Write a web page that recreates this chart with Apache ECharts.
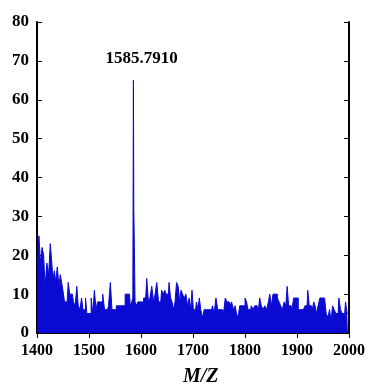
<!DOCTYPE html>
<html><head><meta charset="utf-8">
<script src="https://cdn.jsdelivr.net/npm/echarts@6/dist/echarts.min.js"></script>
<style>html,body{margin:0;padding:0;background:#fff}#c{width:371px;height:392px}</style>
</head><body><div id="c"></div>
<script>
var mz = [1400.5,1402.5,1405,1408,1411.5,1414,1417,1421,1424,1427,1429,1432,1435,1437,1441,1443.5,1446,1448.6,1451,1455,1458,1462,1464,1468,1472,1475,1478,1480.6,1484.4,1487,1489.6,1492,1494.7,1497,1500,1502.3,1506,1508.7,1512,1515,1517.7,1521.5,1524.7,1528,1531.8,1535.6,1539.5,1542.6,1545.8,1550.3,1554.8,1558.6,1563,1567.6,1571.4,1575.3,1577.8,1581,1583.6,1585.0,1585.79,1586.6,1587.8,1589.3,1592,1595.7,1599.6,1603.4,1606.6,1609,1613,1615.6,1618.8,1622.6,1625.8,1628.4,1632.2,1635.4,1638,1641.2,1644.4,1647,1649.5,1652.7,1655.2,1658.4,1661,1664.2,1666.7,1670,1673,1675.7,1678.3,1681.5,1684.7,1687.9,1691,1694.3,1696.8,1699.4,1702,1705,1708.3,1710.9,1713.4,1716.6,1719.8,1723,1726.2,1729.4,1732.6,1735.8,1739,1742.2,1746,1749.3,1751.8,1755,1758.2,1760.8,1763.3,1767.2,1769.7,1772.3,1776.1,1779.3,1782.5,1785,1788.3,1791.5,1794.7,1798.5,1801.7,1804.3,1807.5,1810.7,1813.9,1817,1820.3,1823.5,1826.7,1829.9,1833,1836.3,1839.5,1843.3,1846.5,1849,1852.3,1855.4,1858,1860.6,1863.8,1867,1870.2,1873.4,1877.2,1879.8,1882.3,1885.5,1888.7,1891.9,1895.1,1897.7,1900.9,1904,1907.3,1910.5,1913.7,1916.9,1919.4,1922,1925.2,1927.7,1931,1933.5,1936,1938.6,1942.4,1945.6,1948.2,1951.4,1954.6,1957.8,1961,1964.2,1966.8,1970,1973.2,1976.3,1979,1982.1,1985.3,1988.5,1991.7,1994.9,1998];
var intensity = [18,20,25,18,22,20,12,18,15,23,19,14,16,13,17,12,15,13,11,8,8,13,10,10,8,7,12,7,6,9,6,6,9,5,5,5,9,5,11,6,8,8,8,10,6,6,7,13,6,6,7,7,7,7,10,10,10,7,8,9,65,32,22,8,7,8,8,8,9,9,14,8,9,12,8,10,13,8,8,11,10,11,10,10,13,9,8,6,8,13,12,8,11,10,9,10,7,9,6,11,6,6,8,6,9,6,4,6,6,6,6,6,7,5,9,6,6,6,5,6,9,8,8,7,8,6,7,5,4,7,7,7,9,8,6,6,7,6,7,7,5,9,7,6,7,6,8,10,7,10,10,10,9,8,7,6,8,7,12,7,7,6,9,9,9,6,6,6,6,7,7,11,7,7,6,8,7,5,7,9,9,9,9,5,4,6,3,7,6,5,5,9,6,5,5,8,5];
var xTicks = [1400,1500,1600,1700,1800,1900,2000];
var yTicks = [0,10,20,30,40,50,60,70,80];
var peakLabel = '1585.7910';
var peakMz = 1585.79, peakVal = 65;

var data = mz.map(function(m,i){return [m, intensity[i]];});
var chart = echarts.init(document.getElementById('c'));
var font = 'Liberation Serif';
var blue = '#0a0ad2';
var axisCommon = {
  axisLine:{show:true,lineStyle:{color:'#000',width:2}},
  axisTick:{show:true,inside:true,length:5,lineStyle:{color:'#000',width:1}},
  splitLine:{show:false}
};
function plain(v){return String(v);}
chart.setOption({
  animation:false,
  grid:{left:37,right:22,top:22,bottom:59,containLabel:false},
  xAxis:[
    Object.assign({type:'value',min:xTicks[0],max:xTicks[xTicks.length-1],interval:100,position:'bottom',
      axisLabel:{color:'#000',fontFamily:font,fontWeight:'bold',fontSize:16,margin:10,formatter:plain}},axisCommon),
    Object.assign({type:'value',min:xTicks[0],max:xTicks[xTicks.length-1],interval:100,position:'top',
      axisLabel:{show:false}},axisCommon)
  ],
  yAxis:[
    Object.assign({type:'value',min:yTicks[0],max:yTicks[yTicks.length-1],interval:10,position:'left',
      axisLabel:{color:'#000',fontFamily:font,fontWeight:'bold',fontSize:17,margin:8,formatter:plain}},axisCommon),
    Object.assign({type:'value',min:yTicks[0],max:yTicks[yTicks.length-1],interval:10,position:'right',
      axisLabel:{show:false}},axisCommon)
  ],
  series:[{
    type:'line',data:data,showSymbol:false,symbol:'none',sampling:null,step:'middle',
    lineStyle:{color:blue,width:1},
    areaStyle:{color:blue,opacity:1},
    markPoint:{
      symbol:'circle',symbolSize:0,
      data:[{coord:[peakMz,peakVal]}],
      label:{show:true,formatter:peakLabel,position:'top',offset:[8,-8],color:'#000',
        fontFamily:font,fontWeight:'bold',fontSize:17}
    }
  }],
  graphic:[{type:'text',left:183,top:367,style:{text:'M/Z',fill:'#000',font:'italic bold 20px "Liberation Serif"',textAlign:'center'}}]
});
</script></body></html>
